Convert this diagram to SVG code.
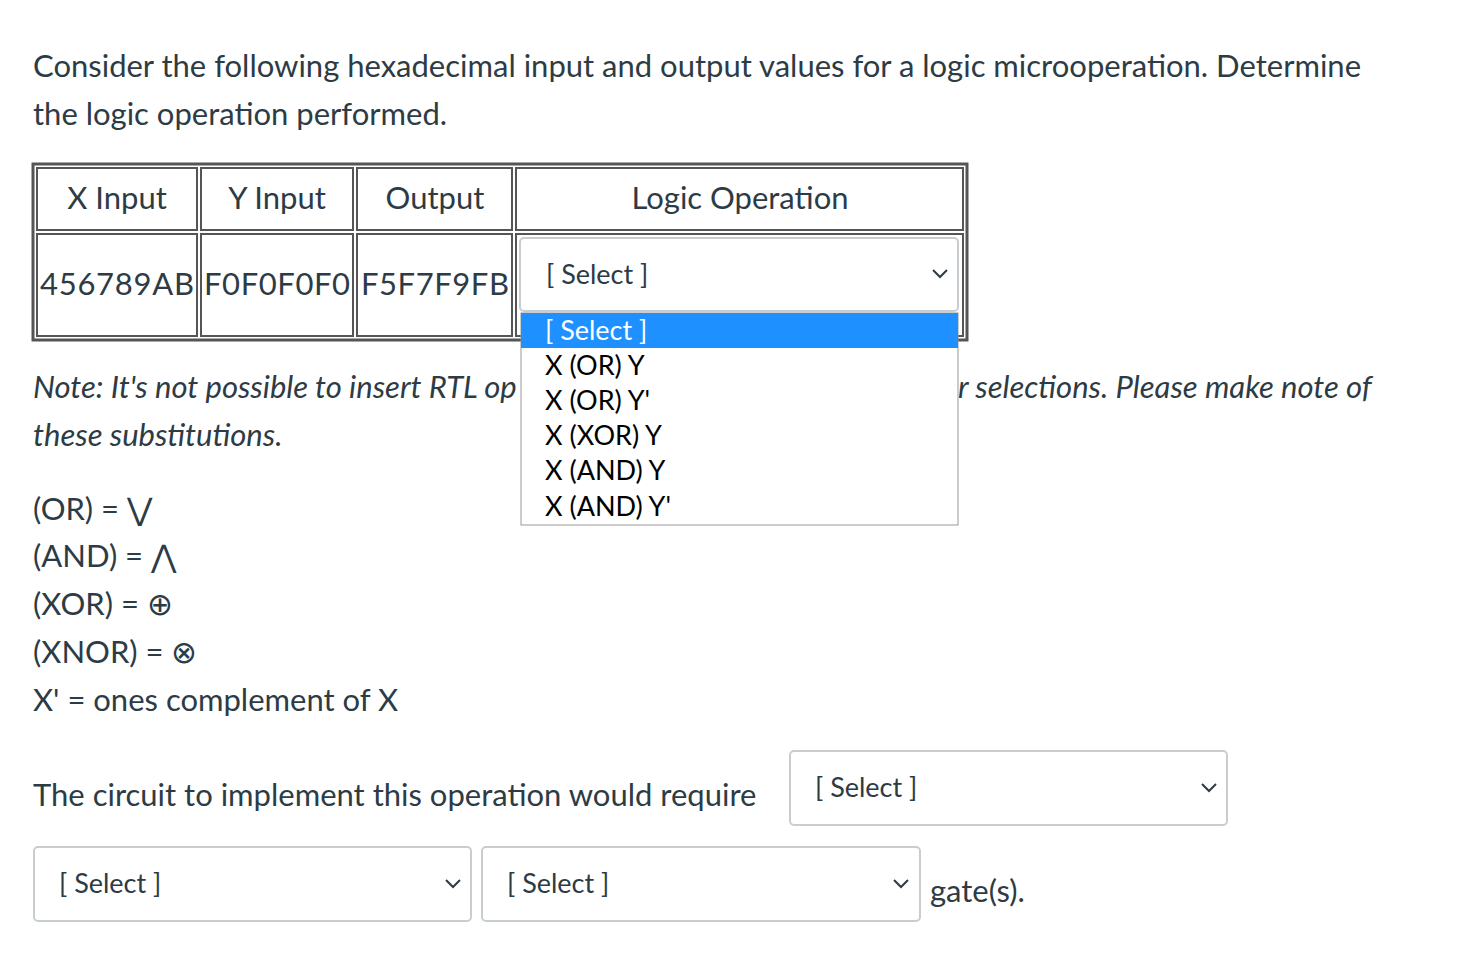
<svg xmlns="http://www.w3.org/2000/svg" width="1460" height="972" viewBox="0 0 1460 972">
<style>
text{font-family:Lato,"Open Sans","Liberation Sans",sans-serif;fill:#2d3b45}
.b{font-size:31px}
.i{font-size:31px;font-style:italic}
.th{font-size:31px;fill:#2d3b45}
.cell{fill:none;stroke:#555;stroke-width:2}
.sel{fill:#fff;stroke:#c7cdd1;stroke-width:2}
.s{font-size:27px}
.chev{fill:none;stroke:#2d3b45;stroke-width:2}
</style>
<rect width="1460" height="972" fill="#fff"/>
<text class="b" x="33" y="77">Consider the following hexadecimal input and output values for a logic microoperation. Determine</text>
<text class="b" x="33" y="125">the logic operation performed.</text>
<g id="table">
<rect x="33" y="164" width="934" height="176" fill="none" stroke="#555" stroke-width="3"/>
<rect class="cell" x="37" y="168" width="160" height="62"/>
<rect class="cell" x="201" y="168" width="152" height="62"/>
<rect class="cell" x="357" y="168" width="155" height="62"/>
<rect class="cell" x="516" y="168" width="447" height="62"/>
<rect class="cell" x="37" y="234" width="160" height="102"/>
<rect class="cell" x="201" y="234" width="152" height="102"/>
<rect class="cell" x="357" y="234" width="155" height="102"/>
<rect class="cell" x="516" y="234" width="447" height="102"/>
<text class="th" x="117" y="209" text-anchor="middle">X Input</text>
<text class="th" x="277" y="209" text-anchor="middle">Y Input</text>
<text class="th" x="435" y="209" text-anchor="middle">Output</text>
<text class="th" x="740" y="209" text-anchor="middle">Logic Operation</text>
<text class="th" x="117" y="295" text-anchor="middle" textLength="154">456789AB</text>
<text class="th" x="277" y="295" text-anchor="middle" textLength="146">F0F0F0F0</text>
<text class="th" x="435" y="295" text-anchor="middle" textLength="148">F5F7F9FB</text>
</g>
<text class="i" x="33" y="398">Note: It's not possible to insert RTL op</text>
<text class="i" x="958" y="398">r selections. Please make note of</text>
<text class="i" x="33" y="446">these substitutions.</text>
<text class="b" x="33" y="520">(OR) = ⋁</text>
<text class="b" x="33" y="567">(AND) = ⋀</text>
<text class="b" x="33" y="615">(XOR) = ⊕</text>
<text class="b" x="33" y="663">(XNOR) = ⊗</text>
<text class="b" x="33" y="711">X' = ones complement of X</text>
<g id="select1">
<rect class="sel" x="520" y="238" width="438" height="73" rx="4"/>
<text class="s" x="546" y="284">[ Select ]</text>
<path class="chev" d="M933 270l7 7 7-7"/>
</g>
<g id="dropdown">
<rect x="521" y="313" width="437" height="212" fill="#fff" stroke="#999" stroke-width="1"/>
<rect x="521" y="313" width="437" height="35" fill="#1e90ff"/>
<text class="s" x="545" y="340" style="fill:#fff">[ Select ]</text>
<text class="s" x="545" y="375" style="fill:#000">X (OR) Y</text>
<text class="s" x="545" y="410" style="fill:#000">X (OR) Y'</text>
<text class="s" x="545" y="445" style="fill:#000">X (XOR) Y</text>
<text class="s" x="545" y="480" style="fill:#000">X (AND) Y</text>
<text class="s" x="545" y="516" style="fill:#000">X (AND) Y'</text>
</g>
<text class="b" x="33" y="806">The circuit to implement this operation would require</text>
<g id="select2">
<rect class="sel" x="790" y="751" width="437" height="74" rx="4"/>
<text class="s" x="815" y="797">[ Select ]</text>
<path class="chev" d="M1202 784l7 7 7-7"/>
</g>
<g id="select3">
<rect class="sel" x="34" y="847" width="437" height="74" rx="4"/>
<text class="s" x="59" y="893">[ Select ]</text>
<path class="chev" d="M446 880l7 7 7-7"/>
</g>
<g id="select4">
<rect class="sel" x="482" y="847" width="438" height="74" rx="4"/>
<text class="s" x="507" y="893">[ Select ]</text>
<path class="chev" d="M894 880l7 7 7-7"/>
</g>
<text class="b" x="930" y="902">gate(s).</text>
</svg>
